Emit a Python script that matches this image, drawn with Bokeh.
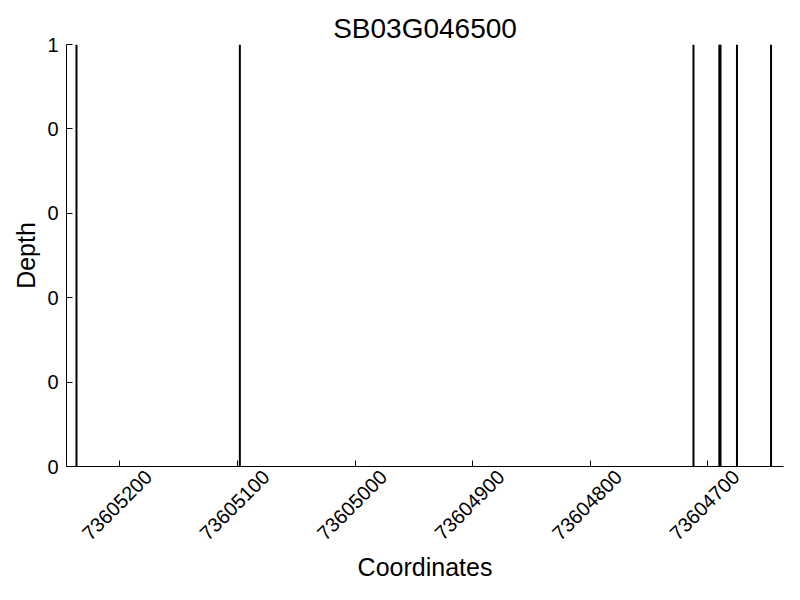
from bokeh.plotting import figure
from bokeh.models import Range1d, FixedTicker, LinearAxis
from bokeh.embed import file_html
from bokeh.resources import INLINE
import math

title_text = "SB03G046500"
coords = [73605237, 73605098, 73604712, 73604690, 73604689, 73604675, 73604646]
depths = [1, 1, 1, 1, 1, 1, 1]
x_ticks = [73605200, 73605100, 73605000, 73604900, 73604800, 73604700]
x_tick_labels = [str(t) for t in x_ticks]
y_ticks = [0, 0.2, 0.4, 0.6, 0.8, 1.0]
y_tick_labels = ["0", "0", "0", "0", "0", "1"]

FONT = "Liberation Sans"
TICK_FS = 20
PX_PER_UNIT = 1.176  # frame pixels per coordinate unit

p = figure(width=784, height=584, output_backend="svg", toolbar_location=None,
           x_range=Range1d(73605245.5, 73604635.4), y_range=Range1d(0, 1),
           min_border_left=66, min_border_right=1, min_border_top=44, min_border_bottom=117)

p.segment(x0=coords, y0=[0] * len(coords), x1=coords, y1=depths,
          line_color="black", line_width=2)

p.title.text = title_text
p.title.align = "center"
p.title.text_font = FONT
p.title.text_font_size = "28px"
p.title.text_font_style = "normal"
p.title.text_color = "black"
p.title.offset = 0
p.title.standoff = 2

p.outline_line_color = None
p.xgrid.visible = False
p.ygrid.visible = False

p.xaxis.ticker = FixedTicker(ticks=x_ticks)
p.yaxis.ticker = FixedTicker(ticks=y_ticks)
p.yaxis.major_label_overrides = {t: l for t, l in zip(y_ticks, y_tick_labels)}

for ax in (p.xaxis, p.yaxis):
    ax.axis_line_color = "black"
    ax.axis_line_width = 1
    ax.major_tick_in = 6
    ax.major_tick_out = 0
    ax.minor_tick_line_color = None
    ax.major_label_text_font = FONT
    ax.major_label_text_font_size = f"{TICK_FS}px"
    ax.major_label_text_color = "black"
    ax.axis_label_text_font = FONT
    ax.axis_label_text_font_size = "25px"
    ax.axis_label_text_font_style = "normal"
    ax.axis_label_text_color = "black"

p.yaxis.axis_label = "Depth"
p.yaxis.major_label_standoff = 8
p.yaxis.axis_label_standoff = 4

# primary x axis: line and inward ticks only
p.xaxis.major_label_overrides = {t: "" for t in x_ticks}
p.xaxis.major_label_text_font_size = "0px"
p.xaxis.major_label_standoff = 0

# label axis: rotated labels centred on the ticks (Bokeh anchors rotated labels at
# their end, so the anchor is moved by half the label length along the text)
label_w = len(x_tick_labels[0]) * 0.556 * TICK_FS
half_diag = 0.5 * label_w * math.cos(math.pi / 4)
shift = (half_diag - 3) / PX_PER_UNIT
shifted = [t - shift for t in x_ticks]
lab_ax = LinearAxis(ticker=FixedTicker(ticks=shifted),
                    major_label_overrides={s: l for s, l in zip(shifted, x_tick_labels)},
                    major_label_orientation=math.pi / 4,
                    major_label_text_font=FONT,
                    major_label_text_font_size=f"{TICK_FS}px",
                    major_label_text_color="black",
                    major_label_standoff=1,
                    axis_line_color=None, major_tick_line_color=None,
                    minor_tick_line_color=None,
                    axis_label="Coordinates", axis_label_text_font=FONT,
                    axis_label_text_font_size="25px", axis_label_text_font_style="normal",
                    axis_label_text_color="black", axis_label_standoff=4)
p.add_layout(lab_ax, "below")

open("out.html", "w").write(file_html(p, INLINE))
